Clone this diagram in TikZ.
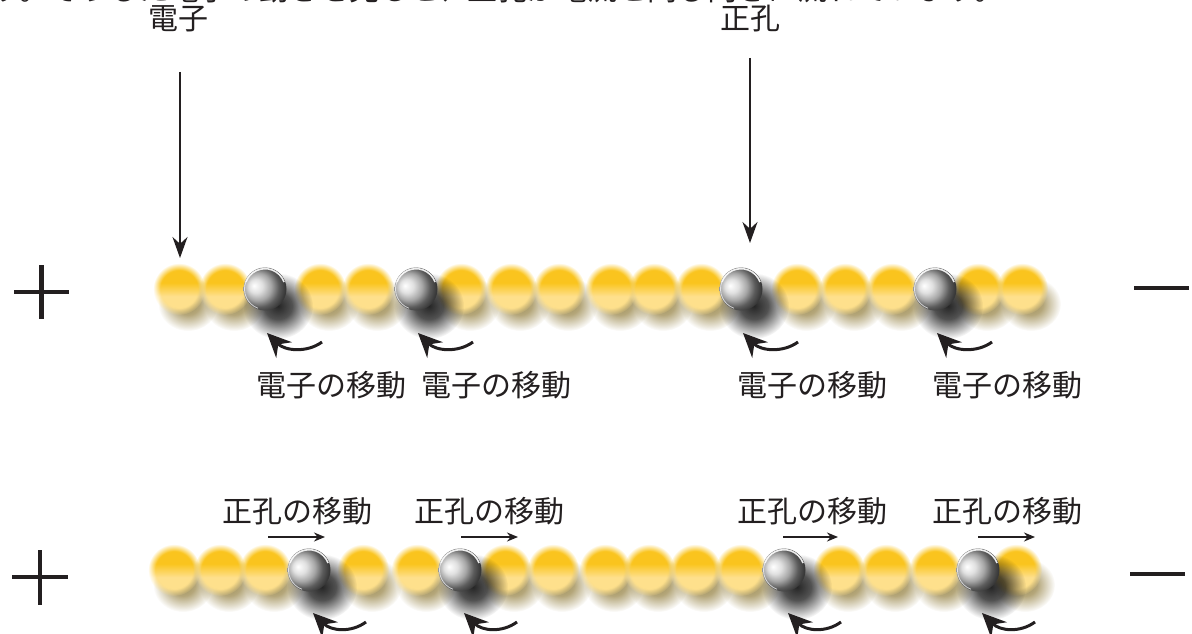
\documentclass[tikz,border=0pt]{standalone}
\usepackage{fontspec}
\newfontfamily\jp{Noto Sans CJK JP}
\usetikzlibrary{arrows.meta,calc,fadings}

% palette
\definecolor{ygold}{RGB}{250,196,30}
\definecolor{ylight}{RGB}{254,224,140}
\definecolor{yshadow}{RGB}{145,125,60}
\definecolor{ink}{RGB}{35,31,32}

% yellow atom: saturated top, pale bottom
\pgfdeclareverticalshading{yellowgrad}{100bp}{color(0bp)=(ylight); color(43bp)=(ylight); color(56bp)=(ygold); color(72bp)=(ygold); color(80bp)=(ygold!80!white); color(100bp)=(ygold!80!white)}
% metallic hole sphere, lit from the upper left
\pgfdeclareradialshading{metalgrad}{\pgfpoint{-13bp}{4bp}}{color(0bp)=(white); color(8bp)=(black!12); color(16bp)=(black!35); color(23bp)=(black!64); color(29bp)=(black!78); color(50bp)=(black!78)}
% soft rim for the yellow atoms
\pgfdeclareradialshading{softedgeshade}{\pgfpointorigin}{color(0bp)=(white); color(18bp)=(white); color(25bp)=(black); color(50bp)=(black)}
\pgfdeclarefading{softedge}{\pgfuseshading{softedgeshade}}
% blurred blob for the shadows
\pgfdeclareradialshading{blurshade}{\pgfpointorigin}{color(0bp)=(white); color(10bp)=(black!20); color(25bp)=(black); color(50bp)=(black)}
\pgfdeclarefading{blurblob}{\pgfuseshading{blurshade}}

\begin{document}
\begin{tikzpicture}[x=1pt,y=-1pt,
  lbl/.style={font=\jp\fontsize{30}{32}\selectfont, text=ink, inner sep=0pt},
  pointer/.style={draw=ink, line width=2pt, -{Stealth[length=21pt,width=15pt]}},
  hop/.style={draw=ink, line width=3pt, -{Stealth[length=24pt,width=22pt,inset=8pt]}},
  drift/.style={draw=ink, line width=2pt, -{Stealth[length=11pt,width=9pt]}},
  pole/.style={draw=ink, line width=4.5pt}]
\useasboundingbox (0,0) rectangle (1192,634);

% caption line running off the top edge
\node[lbl, anchor=base west] (lead) at (-8,1) {す。そうした電子の動きを見ると、正孔が電流と同じ向きに流れています。};

% ---------- shadows of the yellow atoms ----------
\foreach \x in {179,225,320,368,461,511,559,611,654,701,797,845,892,978,1022}
  \fill[yshadow, opacity=0.85, path fading=blurblob] (\x+9,289+15) ellipse [x radius=30, y radius=27];
\foreach \x in {174,220,265,363,417,505,553,605,649,695,741,839,886,935,1016}
  \fill[yshadow, opacity=0.85, path fading=blurblob] (\x+9,570+15) ellipse [x radius=30, y radius=27];

% ---------- yellow atoms ----------
\foreach \x in {179,225,320,368,461,511,559,611,654,701,797,845,892,978,1022}
  \shade[shading=yellowgrad, path fading=softedge] (\x,289) circle [radius=26];
\foreach \x in {174,220,265,363,417,505,553,605,649,695,741,839,886,935,1016}
  \shade[shading=yellowgrad, path fading=softedge] (\x,570) circle [radius=26];

% ---------- hole positions ----------
\coordinate (h1) at (265,289);
\coordinate (h2) at (416,289);
\coordinate (h3) at (741,289);
\coordinate (h4) at (935,289);
\coordinate (k1) at (309,570);
\coordinate (k2) at (460,570);
\coordinate (k3) at (784,570);
\coordinate (k4) at (978,570);

% ---------- shadows and spheres of the holes ----------
\foreach \h in {h1,h2,h3,h4,k1,k2,k3,k4}
  \fill[black, opacity=0.85, path fading=blurblob] ($(\h)+(13,17)$) ellipse [x radius=35, y radius=33];
\foreach \h in {h1,h2,h3,h4,k1,k2,k3,k4}{
  \shade[shading=metalgrad] (\h) circle [radius=21.5];
  \draw[white, line width=1.6pt, opacity=0.9] ($(\h)+(200:20.3)$) arc [start angle=200, end angle=340, radius=20.3];
  \draw[white, line width=0.8pt, opacity=0.7] ($(\h)+(110:20.5)$) arc [start angle=110, end angle=200, radius=20.5];
}

% ---------- poles ----------
\draw[pole] (14,292) -- (69,292) (41.5,265) -- (41.5,319);
\draw[pole] (12,577) -- (68,577) (40,550) -- (40,605);
\draw[pole] (1134,288) -- (1189,288);
\draw[pole] (1130,574) -- (1185,574);

% ---------- top labels and pointers ----------
\node[lbl] (electron) at (178,19) {電子};
\node[lbl] (hole) at (750,19) {正孔};
\coordinate (eFrom) at (180,72);
\coordinate (eTo) at (180,258);
\coordinate (hFrom) at (750,58);
\coordinate (hTo) at (750,243);
\draw[pointer] (eFrom) -- (eTo);
\draw[pointer] (hFrom) -- (hTo);

% ---------- electron hops (upper row) ----------
\foreach \h in {h1,h2,h3,h4}
  \draw[hop] ($(\h)+(57,53)$) .. controls ($(\h)+(42,64)$) and ($(\h)+(20,62)$) .. ($(\h)+(2,44)$);
\node[lbl] (em1) at (331,385) {電子の移動};
\node[lbl] (em2) at (496,385) {電子の移動};
\node[lbl] (em3) at (812,385) {電子の移動};
\node[lbl] (em4) at (1007,385) {電子の移動};

% ---------- hole drift (lower row) ----------
\node[lbl] (hm1) at (297,511) {正孔の移動};
\node[lbl] (hm2) at (489,511) {正孔の移動};
\node[lbl] (hm3) at (812,511) {正孔の移動};
\node[lbl] (hm4) at (1007,511) {正孔の移動};
\foreach \a/\b in {268/325, 461/518, 783/838, 978/1035}{
  \coordinate (dA) at (\a,537);
  \coordinate (dB) at (\b,537);
  \draw[drift] (dA) -- (dB);
}
\foreach \h in {k1,k2,k3,k4}
  \draw[hop] ($(\h)+(57,52)$) .. controls ($(\h)+(42,63)$) and ($(\h)+(22,61)$) .. ($(\h)+(4,43)$);
\end{tikzpicture}
\end{document}
